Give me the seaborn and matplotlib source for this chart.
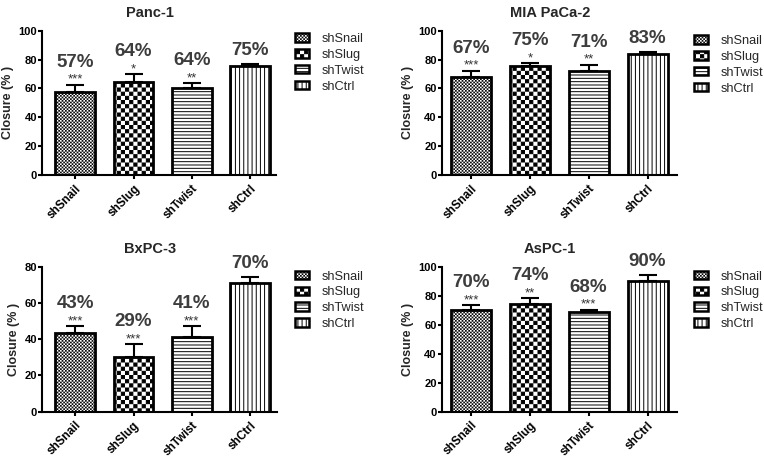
import numpy as np
import pandas as pd
import matplotlib
matplotlib.use("Agg")
import matplotlib.pyplot as plt
import matplotlib.hatch as mhatch
from matplotlib.path import Path
from matplotlib.patches import Patch
import seaborn as sns

# ---------------- data ----------------
groups = ["shSnail", "shSlug", "shTwist", "shCtrl"]
titles = ["Panc-1", "MIA PaCa-2", "BxPC-3", "AsPC-1"]

panc1_mean = [57.7, 64.2, 60.5, 75.7]
panc1_err = [4.7, 5.5, 3.0, 1.4]
panc1_pct = ["57%", "64%", "64%", "75%"]
panc1_sig = ["***", "*", "**", ""]

mia_mean = [68.1, 75.7, 72.0, 84.0]
mia_err = [4.2, 1.9, 4.4, 1.2]
mia_pct = ["67%", "75%", "71%", "83%"]
mia_sig = ["***", "*", "**", ""]

bx_mean = [43.6, 30.0, 41.0, 70.8]
bx_err = [3.6, 7.1, 6.0, 3.3]
bx_pct = ["43%", "29%", "41%", "70%"]
bx_sig = ["***", "***", "***", ""]

as_mean = [70.0, 74.4, 68.4, 90.0]
as_err = [3.4, 3.9, 1.8, 4.0]
as_pct = ["70%", "74%", "68%", "90%"]
as_sig = ["***", "**", "***", ""]

y_top = [100, 100, 80, 100]
y_ticks = [[0, 20, 40, 60, 80, 100], [0, 20, 40, 60, 80, 100],
           [0, 20, 40, 60, 80], [0, 20, 40, 60, 80, 100]]

# ---------------- custom checkerboard hatch ----------------
HATCH_LW = 0.7  # points
plt.rcParams["hatch.linewidth"] = HATCH_LW
_shrink = (HATCH_LW * 100 / 72) / 2 / 100.0  # half stroke in hatch-unit coords


class _Checker(mhatch.HatchPatternBase):
    char = "o"

    def __init__(self, hatch, density):
        self.n = hatch.count(self.char) * density
        self.num_vertices = (self.n * self.n // 2) * 5 if self.n else 0

    def set_vertices_and_codes(self, vertices, codes):
        n = self.n
        s = 1.0 / n
        e = min(_shrink, s * 0.3)
        verts = []
        for i in range(n):
            for j in range(n):
                if (i + j) % 2 == 0:
                    x0, y0 = i * s + e, j * s + e
                    x1, y1 = (i + 1) * s - e, (j + 1) * s - e
                    verts.append([[x0, y0], [x1, y0], [x1, y1], [x0, y1], [x0, y0]])
        vertices[:] = np.array(verts).reshape(-1, 2)
        c = np.array([Path.MOVETO, Path.LINETO, Path.LINETO, Path.LINETO,
                      Path.CLOSEPOLY], dtype=Path.code_type)
        codes[:] = np.tile(c, len(verts))


class _FineChecker(_Checker):
    char = "o"


class _CoarseChecker(_Checker):
    char = "O"


mhatch._hatch_types[:] = [
    _FineChecker if t is mhatch.SmallCircles else
    _CoarseChecker if t is mhatch.LargeCircles else t
    for t in mhatch._hatch_types
]

hatches = ["o" * 10, "O" * 4, "-----", "||||"]

# ---------------- style ----------------
sns.set_style("ticks")
plt.rcParams["font.family"] = ["Liberation Sans", "DejaVu Sans"]
plt.rcParams["hatch.linewidth"] = HATCH_LW
plt.rcParams["axes.linewidth"] = 1.5
plt.rcParams["xtick.major.width"] = 1.5
plt.rcParams["ytick.major.width"] = 1.5
plt.rcParams["xtick.major.size"] = 3.0
plt.rcParams["ytick.major.size"] = 3.0
plt.rcParams["xtick.color"] = "black"
plt.rcParams["ytick.color"] = "black"
plt.rcParams["axes.edgecolor"] = "black"

fig = plt.figure(figsize=(7.64, 4.57), dpi=100)

W, H = 764.0, 457.0
# axes pixel boxes: (left, right, top, bottom)
boxes = [(42, 276, 30.7, 175), (441.5, 677, 30.7, 175),
         (42, 277, 266.7, 411.5), (441.5, 677, 266.7, 411.5)]
xlims = [(-0.57, 3.44), (-0.5, 3.5), (-0.57, 3.46), (-0.5, 3.5)]
legend_pos = [(295, 33), (694, 35), (295, 270.5), (694, 270.5)]

panels = [
    (panc1_mean, panc1_err, panc1_pct, panc1_sig),
    (mia_mean, mia_err, mia_pct, mia_sig),
    (bx_mean, bx_err, bx_pct, bx_sig),
    (as_mean, as_err, as_pct, as_sig),
]

for k, (means, errs, pcts, sigs) in enumerate(panels):
    l, r, t, b = boxes[k]
    ax = fig.add_axes([l / W, 1 - b / H, (r - l) / W, (b - t) / H])
    df = pd.DataFrame({"group": groups, "closure": means})
    sns.barplot(data=df, x="group", y="closure", hue="group",
                palette=["white"] * 4, legend=False, errorbar=None,
                width=0.68, edgecolor="black", linewidth=2.0, ax=ax)
    for patch, h in zip(ax.patches, hatches):
        patch.set_hatch(h)
        patch.set_facecolor("white")
        patch.set_edgecolor("black")
    xs = np.arange(len(groups))
    ax.errorbar(xs, means, yerr=[np.zeros(len(errs)), errs], fmt="none",
                ecolor="black", elinewidth=1.5, capsize=6.5, capthick=1.5,
                zorder=1)
    for i in range(len(groups)):
        top = means[i] + errs[i]
        if sigs[i]:
            ax.annotate(sigs[i], (xs[i], top), xytext=(0, 1.5),
                        textcoords="offset points", ha="center",
                        va="baseline", fontsize=9.5, color="#333333",
                        annotation_clip=False)
            off = 13
        else:
            off = 6.5
        ax.annotate(pcts[i], (xs[i], top), xytext=(0, off),
                    textcoords="offset points", ha="center", va="baseline",
                    fontsize=13.5, fontweight="bold", color="#3d3d3d",
                    annotation_clip=False)
    ax.set_xlim(*xlims[k])
    ax.set_ylim(0, y_top[k])
    ax.set_yticks(y_ticks[k])
    ax.set_yticklabels([str(v) for v in y_ticks[k]], fontsize=8,
                       fontweight="bold")
    ax.set_xticks(xs)
    ax.set_xticklabels(groups, rotation=45, ha="right",
                       rotation_mode="anchor", fontsize=8.5,
                       fontweight="bold")
    ax.tick_params(axis="y", pad=0.5)
    ax.tick_params(axis="x", pad=2.5)
    ax.set_xlabel("")
    ax.set_ylabel("Closure (% )", fontsize=9, fontweight="bold", labelpad=3)
    ax.set_title(titles[k], fontsize=10.5, fontweight="bold", x=0.46, pad=10)
    sns.despine(ax=ax)

    handles = [Patch(facecolor="white", edgecolor="black", hatch=h,
                     linewidth=1.8) for h in hatches]
    lx, ly = legend_pos[k]
    ax.legend(handles, groups, loc="upper left",
              bbox_to_anchor=(lx / W, 1 - ly / H),
              bbox_transform=fig.transFigure, frameon=False, fontsize=9.2,
              handlelength=1.1, handleheight=0.65, handletextpad=1.0,
              labelspacing=0.3, borderpad=0, borderaxespad=0)

fig.savefig("out.png", dpi=100)
